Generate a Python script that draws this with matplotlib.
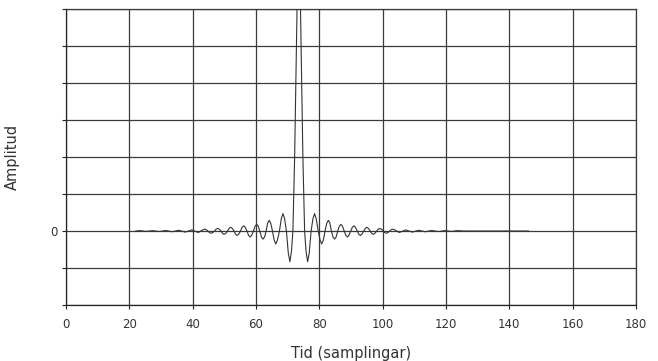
import matplotlib
matplotlib.use("Agg")
import matplotlib.pyplot as plt

# impulse response (sample position, amplitude)
t = [22.0, 23.3, 25.35, 27.4, 29.45, 31.5, 33.55, 35.6, 37.65, 39.7, 41.75,
     43.3, 43.8, 44.3, 44.8, 45.35, 45.85, 46.35, 46.9, 47.4, 47.9, 48.4, 48.95,
     49.45, 49.95, 50.45, 51.0, 51.5, 52.0, 52.5, 53.05, 53.55, 54.05, 54.55, 55.1,
     55.6, 56.1, 56.6, 57.15, 57.65, 58.15, 58.65, 59.2, 59.7, 60.2, 60.7, 61.2,
     61.7, 62.2, 62.7, 63.2, 63.65, 64.15, 64.65, 65.2, 65.75, 66.25, 66.75, 67.4,
     68.0, 68.5, 69.0, 69.6, 70.2, 70.7, 71.2,
     71.65, 72.2, 72.95, 73.5, 74.05, 74.8, 75.35,
     75.8, 76.3, 76.8, 77.4, 78.0, 78.5, 79.0, 79.65, 80.25, 80.75, 81.25, 81.8,
     82.35, 82.85, 83.35, 83.8, 84.3, 84.8, 85.3, 85.8, 86.3, 86.8, 87.3, 87.85,
     88.35, 88.85, 89.35, 89.9, 90.4, 90.9, 91.4, 91.95, 92.45, 92.95, 93.45, 94.0,
     94.5, 95.0, 95.5, 96.05, 96.55, 97.05, 97.55, 98.1, 98.6, 99.1, 99.6, 100.15,
     100.65, 101.15, 101.65, 102.2, 102.7, 103.2, 103.7,
     105.25, 107.3, 109.35, 111.4, 113.45, 115.5, 117.55, 119.6, 121.65, 123.7,
     125.75, 146.0]
amp = [0.0, 0.01, -0.01, 0.01, -0.015, 0.015, -0.02, 0.02, -0.03, 0.03, -0.04,
       0.036, 0.05, 0.036, 0.0, -0.043, -0.06, -0.043, 0.0, 0.05, 0.07, 0.05, 0.0,
       -0.065, -0.09, -0.065, 0.0, 0.072, 0.10, 0.072, 0.0, -0.086, -0.12, -0.086, 0.0,
       0.10, 0.14, 0.10, 0.0, -0.115, -0.16, -0.115, 0.0, 0.13, 0.18, 0.13, 0.0,
       -0.16, -0.22, -0.16, 0.0, 0.21, 0.29, 0.21, 0.0, -0.25, -0.35, -0.25, 0.0,
       0.34, 0.47, 0.34, 0.0, -0.6, -0.83, -0.55,
       0.0, 2.0, 6.0, 8.6, 6.0, 2.0, 0.0,
       -0.55, -0.83, -0.6, 0.0, 0.34, 0.47, 0.34, 0.0, -0.25, -0.35, -0.25, 0.0,
       0.21, 0.29, 0.21, 0.0, -0.16, -0.22, -0.16, 0.0, 0.13, 0.18, 0.13, 0.0,
       -0.115, -0.16, -0.115, 0.0, 0.10, 0.14, 0.10, 0.0, -0.086, -0.12, -0.086, 0.0,
       0.072, 0.10, 0.072, 0.0, -0.065, -0.09, -0.065, 0.0, 0.05, 0.07, 0.05, 0.0,
       -0.043, -0.06, -0.043, 0.0, 0.036, 0.05, 0.036,
       -0.04, 0.03, -0.03, 0.02, -0.02, 0.015, -0.015, 0.01, -0.01, 0.01,
       0.0, 0.0]

x_ticks = [0, 20, 40, 60, 80, 100, 120, 140, 160, 180]
y_ticks = [-2, -1, 0, 1, 2, 3, 4, 5, 6]
y_labels = ["", "", "0", "", "", "", "", "", ""]

plt.rcParams.update({"font.family": "DejaVu Sans", "font.size": 8.5})
TXT, GRID = "#333333", "#3a3a3a"

fig = plt.figure(figsize=(6.58, 3.61), dpi=100)
ax = fig.add_axes([0.1003, 0.1551, 0.8663, 0.8199])

ax.plot(t, amp, color="#333333", lw=0.8, zorder=3)

ax.set_xlim(0, 180)
ax.set_ylim(-2, 6)
ax.set_xticks(x_ticks)
ax.set_yticks(y_ticks)
ax.set_yticklabels(y_labels)
ax.grid(True, color=GRID, lw=0.9)
ax.set_axisbelow(True)
for s in ax.spines.values():
    s.set_color(GRID); s.set_linewidth(0.9)
ax.spines["left"].set_color("#222222")
ax.spines["bottom"].set_color("#222222")
ax.tick_params(direction="out", length=3, width=0.8, colors="#222222", labelcolor=TXT)
ax.tick_params(axis="x", pad=6)
ax.tick_params(axis="y", pad=3)

ax.set_xlabel("Tid (samplingar)", fontsize=10.5, color=TXT, labelpad=11)
ax.set_ylabel("Amplitud", fontsize=10.5, color=TXT, labelpad=22)

fig.savefig("out.png", dpi=100)
